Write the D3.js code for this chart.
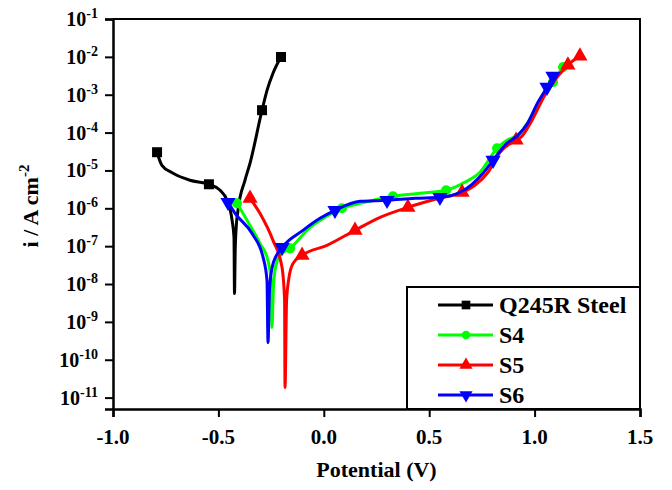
<!DOCTYPE html>
<html><head><meta charset="utf-8">
<script src="https://cdn.jsdelivr.net/npm/d3@7"></script>
<style>body{margin:0;background:#fff}svg text{font-family:"Liberation Serif","Times New Roman",serif;font-weight:bold;}</style>
</head><body><svg id="c" width="672" height="490"></svg>
<script>
// ---------- data ----------
const seriesNames  = ["Q245R Steel", "S4", "S5", "S6"];
const seriesColors = ["#000000", "#00ff00", "#ff0000", "#0000ff"];
const seriesSymbols = ["square", "circle", "triangleUp", "triangleDown"];

const q245rE = [-0.791,-0.768,-0.715,-0.635,-0.545,-0.492,-0.459,-0.435,-0.426,-0.4236,-0.4203,-0.4165,-0.407,-0.374,-0.350,-0.293,-0.269,-0.241,-0.203];
const q245rI = [3.03e-5,1.37e-5,8.43e-6,5.51e-6,4.31e-6,2.99e-6,1.63e-6,4.82e-7,1.71e-7,5.6e-9,7.8e-8,2.6e-7,8.9e-7,5.5e-6,1.55e-5,3.9e-4,1.32e-3,3.7e-3,9.9e-3];
const q245rMarks = [0,4,15,18];

const s4E = [-0.412,-0.364,-0.303,-0.265,-0.2505,-0.246,-0.2386,-0.227,-0.208,-0.160,-0.065,0.006,0.086,0.195,0.328,0.456,0.580,0.670,0.741,0.822,0.869,0.921,0.969,1.026,1.087,1.135];
const s4I = [1.36e-6,4.82e-7,1.19e-7,4.21e-8,1.25e-8,7.1e-10,9.1e-9,3.1e-8,5.7e-8,8.75e-8,3.14e-7,5.78e-7,1.0e-6,1.44e-6,2.07e-6,2.49e-6,2.99e-6,4.9e-6,8.95e-6,3.86e-5,6.31e-5,8.51e-5,1.91e-4,7.24e-4,2.15e-3,5.37e-3];
const s4Marks = [0,9,12,14,16,19,24,25];

const s5E = [-0.350,-0.303,-0.241,-0.198,-0.186,-0.184,-0.1765,-0.165,-0.146,-0.103,0.015,0.148,0.267,0.399,0.528,0.656,0.717,0.779,0.836,0.912,0.940,0.988,1.049,1.111,1.158,1.215];
const s5I = [1.84e-6,7.38e-7,1.42e-7,2.75e-8,3.72e-9,1.84e-11,3.72e-9,1.5e-8,3.51e-8,5.71e-8,1.05e-7,2.62e-7,5.78e-7,1.06e-6,1.73e-6,2.65e-6,4.06e-6,8.95e-6,3.03e-5,6.31e-5,8.04e-5,2.13e-4,9.77e-4,3.1e-3,6.07e-3,1.05e-2];
const s5Marks = [0,9,11,13,15,19,24,25];

const s6E = [-0.4545,-0.421,-0.341,-0.288,-0.2695,-0.2647,-0.2576,-0.246,-0.227,-0.198,-0.099,-0.018,0.053,0.172,0.300,0.433,0.551,0.646,0.703,0.755,0.803,0.869,0.917,0.964,1.016,1.059,1.087];
const s6I = [1.44e-6,7.38e-7,2.18e-7,5.06e-8,1.25e-8,2.85e-10,6.76e-9,2.59e-8,5.37e-8,9.29e-8,2.62e-7,5.43e-7,8.85e-7,1.53e-6,1.63e-6,1.84e-6,1.95e-6,2.65e-6,4.31e-6,8.43e-6,1.86e-5,5.25e-5,8.04e-5,1.67e-4,6.37e-4,1.58e-3,3.1e-3];
const s6Marks = [0,9,12,14,16,20,25,26];

const xTickValues = [-1.0, -0.5, 0.0, 0.5, 1.0, 1.5];
const xTickLabels = ["-1.0", "-0.5", "0.0", "0.5", "1.0", "1.5"];
const yTickExponents = [-1,-2,-3,-4,-5,-6,-7,-8,-9,-10,-11];
const xTitle = "Potential (V)";
const yTitle = "i / A cm";
const yTitleSup = "-2";

// ---------- chart ----------
const seriesE = [q245rE, s4E, s5E, s6E];
const seriesI = [q245rI, s4I, s5I, s6I];
const seriesM = [q245rMarks, s4Marks, s5Marks, s6Marks];

const svg = d3.select("#c");
const L = 113, R = 640, T = 19, B = 409;
const x = d3.scaleLinear().domain([-1, 1.5]).range([L, R]);
const y = d3.scaleLog().domain([5e-12, 0.1]).range([B, T]);

// frame top/right
svg.append("path").attr("d", `M${L},${T}H${R}V${B}`).attr("fill","none").attr("stroke","#000").attr("stroke-width",2);

// x axis
const xMinor = d3.range(-1, 1.5001, 0.25);
const gx = svg.append("g").attr("transform", `translate(0,${B})`);
gx.call(d3.axisBottom(x).tickValues(xMinor).tickSize(4).tickFormat(""));
gx.call(d3.axisBottom(x).tickValues(xTickValues).tickSize(8).tickFormat(""));
gx.selectAll("path.domain").attr("stroke-width", 2.5);
gx.selectAll(".tick line").attr("stroke-width", 2);
svg.append("g").selectAll("text").data(xTickValues).join("text")
  .attr("x", d => x(d)).attr("y", 444).attr("text-anchor","middle")
  .attr("font-size", 21).text((d,i) => xTickLabels[i]);

// y axis
const yMinor = [];
for (let e = -12; e <= -2; e++) for (let k = 2; k <= 9; k++) { const v = k * Math.pow(10, e); if (v >= 5e-12 && v <= 0.1) yMinor.push(v); }
const yMajor = yTickExponents.map(e => Math.pow(10, e));
const gy = svg.append("g").attr("transform", `translate(${L},0)`);
gy.call(d3.axisLeft(y).tickValues(yMinor).tickSize(4).tickFormat(""));
gy.call(d3.axisLeft(y).tickValues(yMajor).tickSize(8).tickFormat(""));
gy.selectAll("path.domain").attr("stroke-width", 2.5);
gy.selectAll(".tick line").attr("stroke-width", 2);
const yl = svg.append("g").selectAll("text").data(yTickExponents).join("text")
  .attr("x", 98).attr("y", e => y(Math.pow(10, e)) + 7).attr("text-anchor","end").attr("font-size", 20);
yl.append("tspan").text("10");
yl.append("tspan").attr("dy", -8).attr("font-size", 14).text(e => String(e));

// titles
svg.append("text").attr("x", (L + R) / 2).attr("y", 477).attr("text-anchor","middle").attr("font-size", 22).text(xTitle);
const yt = svg.append("text").attr("transform", `translate(38,${(T + B) / 2 - 8}) rotate(-90)`).attr("text-anchor","middle").attr("font-size", 22);
yt.append("tspan").text(yTitle);
yt.append("tspan").attr("dy", -9).attr("font-size", 15).text(yTitleSup);

// curves
const line = d3.line().x(d => x(d[0])).y(d => y(d[1])).curve(d3.curveMonotoneX);
function symbolFor(name, size) {
  if (name === "square") return d3.symbol(d3.symbolSquare, size)();
  if (name === "circle") return d3.symbol(d3.symbolCircle, size)();
  return d3.symbol(d3.symbolTriangle, size)();
}
const symSize = {square: 100, circle: 80, triangleUp: 100, triangleDown: 100};
function drawMarker(g, name, cx, cy, color, size) {
  g.append("path").attr("d", symbolFor(name, size))
    .attr("transform", `translate(${cx},${cy})` + (name === "triangleDown" ? " rotate(180)" : ""))
    .attr("fill", color);
}
[0, 1, 2, 3].forEach(s => {
  const pts = seriesE[s].map((e, i) => [e, seriesI[s][i]]);
  const g = svg.append("g");
  g.append("path").attr("d", line(pts)).attr("fill","none").attr("stroke", seriesColors[s]).attr("stroke-width", 3).attr("stroke-linejoin","round");
  seriesM[s].forEach(i => drawMarker(g, seriesSymbols[s], x(pts[i][0]), y(pts[i][1]), seriesColors[s], symSize[seriesSymbols[s]]));
});

// legend
const lg = svg.append("g");
lg.append("rect").attr("x", 407).attr("y", 287).attr("width", R - 407).attr("height", B - 287)
  .attr("fill", "#fff").attr("stroke", "#000").attr("stroke-width", 2);
seriesNames.forEach((n, s) => {
  const cy = 305 + s * 30;
  lg.append("line").attr("x1", 438).attr("x2", 493).attr("y1", cy).attr("y2", cy).attr("stroke", seriesColors[s]).attr("stroke-width", 3);
  drawMarker(lg, seriesSymbols[s], 466, cy, seriesColors[s], symSize[seriesSymbols[s]] * 0.75);
  lg.append("text").attr("x", 499).attr("y", cy + 8).attr("font-size", 24).text(n);
});
</script></body></html>
